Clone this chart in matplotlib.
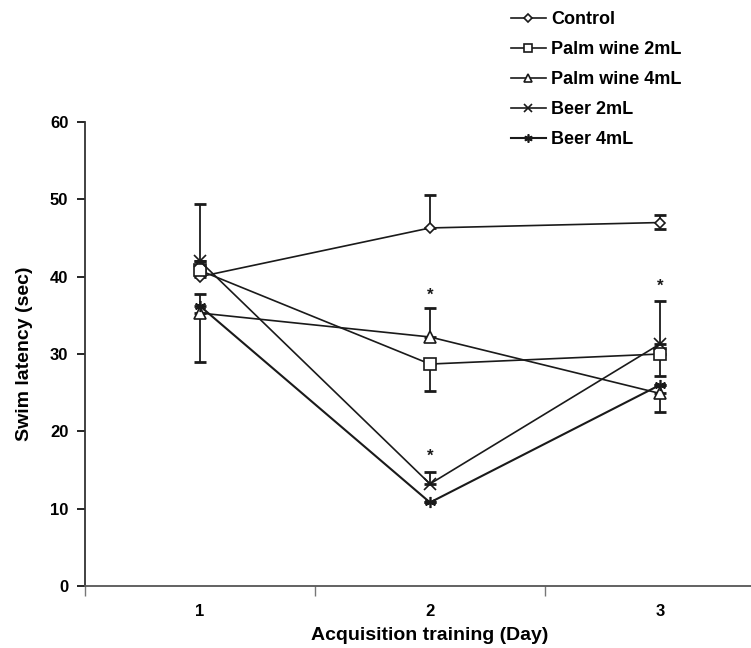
import matplotlib
matplotlib.use("Agg")
import matplotlib.pyplot as plt
import numpy as np

plt.rcParams['font.family'] = ['Liberation Sans', 'DejaVu Sans']

days = [1, 2, 3]
day_labels = ["1", "2", "3"]

series_names = ["Control", "Palm wine 2mL", "Palm wine 4mL", "Beer 2mL", "Beer 4mL"]
control = [40.0, 46.3, 47.0]
palm2 = [40.8, 28.7, 30.0]
palm4 = [35.3, 32.2, 24.9]
beer2 = [42.0, 13.2, 31.3]
beer4 = [36.2, 10.8, 26.0]

# asymmetric error bars: (lower, upper)
control_err = ([0.0, 0.0, 0.9], [9.4, 4.2, 1.0])
palm2_err = ([0.0, 3.5, 2.8], [0.0, 0.0, 0.0])
palm4_err = ([6.3, 0.0, 2.4], [0.0, 3.8, 0.0])
beer2_err = ([0.0, 0.0, 0.0], [0.0, 1.5, 5.5])
beer4_err = ([0.0, 0.0, 0.0], [1.6, 0.0, 0.0])

# significance markers
star_x = [2, 2, 3]
star_y = [37.6, 16.8, 38.8]

values = [control, palm2, palm4, beer2, beer4]
errs = [control_err, palm2_err, palm4_err, beer2_err, beer4_err]
markers = ['D', 's', '^', 'x', (6, 2, 0)]
msizes = [5, 8, 8, 8, 8]
lws = [1.2, 1.2, 1.2, 1.2, 1.5]
col = '#1a1a1a'

fig = plt.figure(figsize=(7.51, 6.48), dpi=100)
ax = fig.add_axes([85/751, 1-586/648, (775-85)/751, (586-122)/648])

for name, v, e, m, ms, lw in zip(series_names, values, errs, markers, msizes, lws):
    ax.errorbar(days, v, yerr=[e[0], e[1]], fmt='none', ecolor=col,
                elinewidth=1.3, capsize=4, capthick=2.0, zorder=2)
    ax.plot(days, v, color=col, lw=lw, marker=m, markersize=ms,
            markerfacecolor='white', markeredgecolor=col, markeredgewidth=1.2,
            label=name, zorder=3)

for sx, sy in zip(star_x, star_y):
    ax.text(sx, sy, '*', ha='center', va='center', fontsize=12,
            fontweight='bold', color=col)

ax.set_xlim(0.5, 3.5)
ax.set_ylim(0, 60)
ax.set_yticks(np.arange(0, 61, 10))
ax.set_xticks(days)
ax.set_xticklabels(day_labels)
ax.set_xticks([0.5, 1.5, 2.5, 3.5], minor=True)
ax.tick_params(axis='x', which='major', length=0, pad=13, labelsize=12)
ax.tick_params(axis='x', which='minor', length=7, width=1.0, direction='out', color='#777777')
ax.tick_params(axis='y', length=6, width=1.2, direction='out', pad=6, labelsize=12)
for lab in ax.get_xticklabels() + ax.get_yticklabels():
    lab.set_fontweight('bold')

ax.spines['top'].set_visible(False)
ax.spines['right'].set_visible(False)
ax.spines['left'].set_linewidth(1.3)
ax.spines['bottom'].set_linewidth(1.3)
ax.spines['left'].set_color('#333333')
ax.spines['bottom'].set_color('#555555')

ax.set_xlabel('Acquisition training (Day)', fontsize=14, fontweight='bold', labelpad=6)
ax.set_ylabel('Swim latency (sec)', fontsize=14, fontweight='bold', labelpad=12)

handles, labels = ax.get_legend_handles_labels()
leg = fig.legend(handles, labels, loc='upper left', bbox_to_anchor=(500/751, 1.0),
                 frameon=False, fontsize=13, handlelength=1.95, handletextpad=0.3,
                 labelspacing=0.72, borderaxespad=0.2, markerscale=0.75)
for t in leg.get_texts():
    t.set_fontweight('bold')

fig.savefig('out.png', dpi=100)
